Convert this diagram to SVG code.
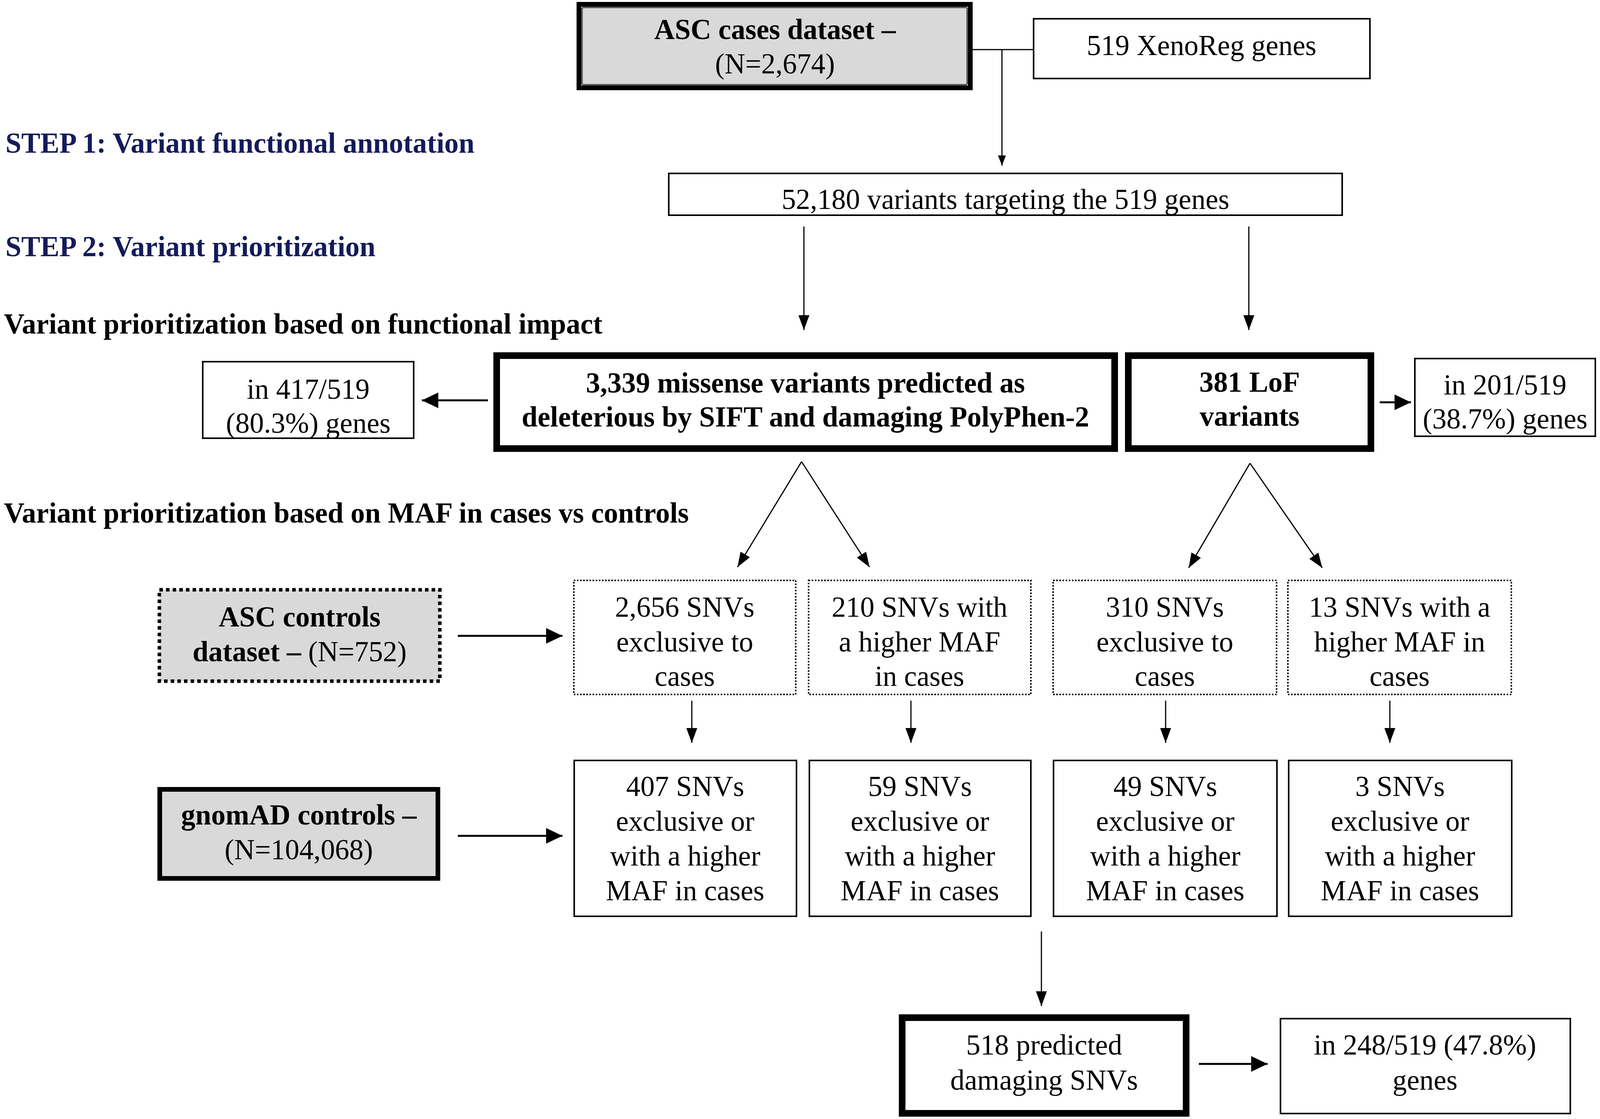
<svg xmlns="http://www.w3.org/2000/svg" width="4319" height="2865" viewBox="0 0 4319 2865">
<style>
text{font-family:"Liberation Serif","Times New Roman",serif;font-size:73px;fill:#000}
.b{font-weight:bold}
.c{text-anchor:middle}
.step{fill:#141a5a;font-weight:bold}
.thin{fill:#fff;stroke:#000;stroke-width:4}
.thick{fill:#fff;stroke:#000;stroke-width:17}
.grayT{fill:#d9d9d9;stroke:#000;stroke-width:12}
.inner{fill:none;stroke:#5a5a5a;stroke-width:4}
.dot{fill:#fff;stroke:#000;stroke-width:4;stroke-dasharray:4 4}
.dotG{fill:#d9d9d9;stroke:#000;stroke-width:9;stroke-dasharray:9 8}
.ln{stroke:#000;stroke-width:3;fill:none}
.lnb{stroke:#000;stroke-width:5;fill:none}
</style>
<defs>
<marker id="ah" markerUnits="userSpaceOnUse" markerWidth="38" markerHeight="28" refX="38" refY="14" orient="auto"><path d="M0,0 L38,14 L0,28 z" fill="#000"/></marker>
<marker id="ahs" markerUnits="userSpaceOnUse" markerWidth="26" markerHeight="20" refX="26" refY="10" orient="auto"><path d="M0,0 L26,10 L0,20 z" fill="#000"/></marker>
<marker id="ahb" markerUnits="userSpaceOnUse" markerWidth="42" markerHeight="40" refX="42" refY="20" orient="auto"><path d="M0,0 L42,20 L0,40 z" fill="#000"/></marker>
</defs>
<rect width="4319" height="2865" fill="#fff"/>

<g id="labels">
<text class="step" x="14" y="391">STEP 1: Variant functional annotation</text>
<text class="step" x="14" y="656">STEP 2: Variant prioritization</text>
<text class="b" x="10" y="854">Variant prioritization based on functional impact</text>
<text class="b" x="10" y="1338">Variant prioritization based on MAF in cases vs controls</text>
</g>

<g id="connectors">
<line class="ln" x1="2490" y1="127" x2="2646" y2="127"/>
<line class="ln" x1="2565" y1="127" x2="2565" y2="424" marker-end="url(#ahs)"/>
<line class="ln" x1="2058" y1="580" x2="2058" y2="845" marker-end="url(#ah)"/>
<line class="ln" x1="3197" y1="580" x2="3197" y2="845" marker-end="url(#ah)"/>
<line class="lnb" x1="1249" y1="1025" x2="1080" y2="1025" marker-end="url(#ahb)"/>
<line class="lnb" x1="3532" y1="1030" x2="3612" y2="1030" marker-end="url(#ahb)"/>
<line class="ln" x1="2052" y1="1182" x2="1888" y2="1452" marker-end="url(#ah)"/>
<line class="ln" x1="2052" y1="1182" x2="2226" y2="1452" marker-end="url(#ah)"/>
<line class="ln" x1="3200" y1="1186" x2="3043" y2="1454" marker-end="url(#ah)"/>
<line class="ln" x1="3200" y1="1186" x2="3385" y2="1454" marker-end="url(#ah)"/>
<line class="lnb" x1="1172" y1="1628" x2="1440" y2="1628" marker-end="url(#ahb)"/>
<line class="lnb" x1="1172" y1="2140" x2="1440" y2="2140" marker-end="url(#ahb)"/>
<line class="ln" x1="1771" y1="1794" x2="1771" y2="1902" marker-end="url(#ah)"/>
<line class="ln" x1="2332" y1="1794" x2="2332" y2="1902" marker-end="url(#ah)"/>
<line class="ln" x1="2984" y1="1794" x2="2984" y2="1902" marker-end="url(#ah)"/>
<line class="ln" x1="3558" y1="1794" x2="3558" y2="1902" marker-end="url(#ah)"/>
<line class="ln" x1="2666" y1="2385" x2="2666" y2="2576" marker-end="url(#ah)"/>
<line class="lnb" x1="3069" y1="2724" x2="3245" y2="2724" marker-end="url(#ahb)"/>
</g>

<g id="asc-cases">
<rect class="grayT" x="1482" y="11" width="1002" height="214"/>
<rect class="inner" x="1490" y="19" width="986" height="198" rx="4"/>
<text class="c b" x="1984" y="100">ASC cases dataset –</text>
<text class="c" x="1984" y="188">(N=2,674)</text>
</g>

<g id="xenoreg">
<rect class="thin" x="2646" y="48" width="861" height="153"/>
<text class="c" x="3076" y="141">519 XenoReg genes</text>
</g>

<g id="variants">
<rect class="thin" x="1712" y="444" width="1724" height="107"/>
<text class="c" x="2574" y="535">52,180 variants targeting the 519 genes</text>
</g>

<g id="missense">
<rect class="thick" x="1271.5" y="910.5" width="1582" height="238"/>
<text class="c b" x="2062" y="1005">3,339 missense variants predicted as</text>
<text class="c b" x="2062" y="1092">deleterious by SIFT and damaging PolyPhen-2</text>
</g>

<g id="lof">
<rect class="thick" x="2888.5" y="910.5" width="621" height="238"/>
<text class="c b" x="3199" y="1003">381 LoF</text>
<text class="c b" x="3199" y="1090">variants</text>
</g>

<g id="genes417">
<rect class="thin" x="519" y="926" width="540" height="196"/>
<text class="c" x="789" y="1021">in 417/519</text>
<text class="c" x="789" y="1108">(80.3%) genes</text>
</g>

<g id="genes201">
<rect class="thin" x="3622" y="918" width="462" height="199"/>
<text class="c" x="3853" y="1010">in 201/519</text>
<text class="c" x="3853" y="1097">(38.7%) genes</text>
</g>

<g id="asc-controls">
<rect class="dotG" x="408" y="1510" width="718" height="234"/>
<text class="c b" x="767" y="1604">ASC controls</text>
<text class="c" x="767" y="1693"><tspan class="b">dataset –</tspan> (N=752)</text>
</g>

<g id="excl-miss">
<rect class="dot" x="1469" y="1486" width="568" height="292"/>
<text class="c" x="1753" y="1579">2,656 SNVs</text>
<text class="c" x="1753" y="1668">exclusive to</text>
<text class="c" x="1753" y="1756">cases</text>
</g>

<g id="higher-miss">
<rect class="dot" x="2070" y="1486" width="569" height="292"/>
<text class="c" x="2354" y="1579">210 SNVs with</text>
<text class="c" x="2354" y="1668">a higher MAF</text>
<text class="c" x="2354" y="1756">in cases</text>
</g>

<g id="excl-lof">
<rect class="dot" x="2696" y="1486" width="572" height="292"/>
<text class="c" x="2982" y="1579">310 SNVs</text>
<text class="c" x="2982" y="1668">exclusive to</text>
<text class="c" x="2982" y="1756">cases</text>
</g>

<g id="higher-lof">
<rect class="dot" x="3297" y="1486" width="572" height="292"/>
<text class="c" x="3583" y="1579">13 SNVs with a</text>
<text class="c" x="3583" y="1668">higher MAF in</text>
<text class="c" x="3583" y="1756">cases</text>
</g>

<g id="gnomad">
<rect class="grayT" x="409" y="2021" width="712" height="228"/>
<text class="c b" x="765" y="2111">gnomAD controls –</text>
<text class="c" x="765" y="2200">(N=104,068)</text>
</g>

<g id="snv407">
<rect class="thin" x="1470" y="1947" width="569" height="399"/>
<text class="c" x="1754" y="2038">407 SNVs</text>
<text class="c" x="1754" y="2127">exclusive or</text>
<text class="c" x="1754" y="2216">with a higher</text>
<text class="c" x="1754" y="2305">MAF in cases</text>
</g>

<g id="snv59">
<rect class="thin" x="2072" y="1947" width="567" height="399"/>
<text class="c" x="2355" y="2038">59 SNVs</text>
<text class="c" x="2355" y="2127">exclusive or</text>
<text class="c" x="2355" y="2216">with a higher</text>
<text class="c" x="2355" y="2305">MAF in cases</text>
</g>

<g id="snv49">
<rect class="thin" x="2697" y="1947" width="572" height="399"/>
<text class="c" x="2983" y="2038">49 SNVs</text>
<text class="c" x="2983" y="2127">exclusive or</text>
<text class="c" x="2983" y="2216">with a higher</text>
<text class="c" x="2983" y="2305">MAF in cases</text>
</g>

<g id="snv3">
<rect class="thin" x="3299" y="1947" width="571" height="399"/>
<text class="c" x="3584" y="2038">3 SNVs</text>
<text class="c" x="3584" y="2127">exclusive or</text>
<text class="c" x="3584" y="2216">with a higher</text>
<text class="c" x="3584" y="2305">MAF in cases</text>
</g>

<g id="snv518">
<rect class="thick" x="2309.5" y="2605.5" width="727" height="245"/>
<text class="c" x="2673" y="2700">518 predicted</text>
<text class="c" x="2673" y="2790">damaging SNVs</text>
</g>

<g id="genes248">
<rect class="thin" x="3278" y="2608" width="742" height="243"/>
<text class="c" x="3648" y="2700">in 248/519 (47.8%)</text>
<text class="c" x="3648" y="2790">genes</text>
</g>
</svg>
